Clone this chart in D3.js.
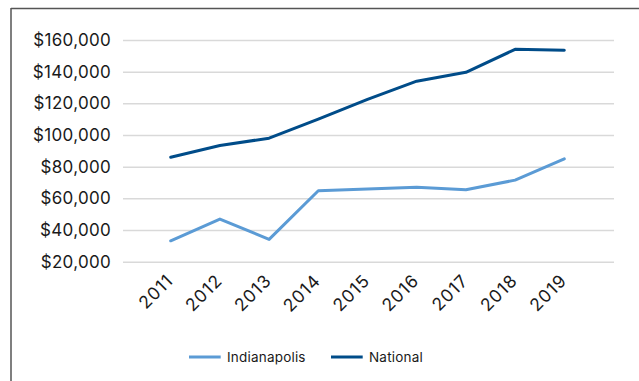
<!DOCTYPE html>
<html><head><meta charset="utf-8">
<script src="https://cdn.jsdelivr.net/npm/d3@7/dist/d3.min.js"></script>
<style>
html,body{margin:0;padding:0;background:#fff;}
svg{display:block;font-family:Inter, sans-serif;}
</style></head>
<body>
<svg id="c" width="639" height="381"></svg>
<script>
const years = ["2011","2012","2013","2014","2015","2016","2017","2018","2019"];
const indianapolis = [33200, 46900, 34100, 64800, 65900, 67000, 65400, 71500, 85000];
const national = [86000, 93400, 98000, 110000, 122500, 134000, 139600, 154100, 153500];
const yTicks = [20000, 40000, 60000, 80000, 100000, 120000, 140000, 160000];
const seriesNames = ["Indianapolis", "National"];
const seriesColors = ["#5B9BD5", "#004C89"];
const FONT = "Inter, sans-serif";

const svg = d3.select("#c");
svg.append("line").attr("x1",11).attr("x2",639).attr("y1",8.5).attr("y2",8.5).attr("stroke","#555").attr("stroke-width",1.5);
svg.append("line").attr("x1",11).attr("x2",11).attr("y1",8).attr("y2",381).attr("stroke","#555").attr("stroke-width",1.5);

const x = d3.scalePoint().domain(years).range([170.7, 564.3]);
const y = d3.scaleLinear().domain([20000, 160000]).range([261.7, 40]);
const gridL = 123, gridR = 614;

const yAxis = d3.axisLeft(y).tickValues(yTicks).tickSize(-(gridR-gridL)).tickPadding(12)
  .tickFormat(d => "$" + d3.format(",")(d));
const gy = svg.append("g").attr("transform",`translate(${gridL},0)`).call(yAxis);
gy.select(".domain").remove();
gy.selectAll(".tick line").attr("stroke","#d9d9d9").attr("stroke-width",1.5);
gy.selectAll(".tick text").attr("fill","#1a1a1a").attr("font-size",17).attr("font-weight",400).attr("letter-spacing",0.3).attr("font-family",FONT);

const xAxis = d3.axisBottom(x).tickSize(0).tickPadding(0);
const gx = svg.append("g").attr("transform",`translate(0,${y(20000)})`).call(xAxis);
gx.select(".domain").remove();
gx.selectAll(".tick text")
  .attr("fill","#1a1a1a").attr("font-size",17.5).attr("font-weight",400).attr("letter-spacing",1).attr("font-family",FONT)
  .attr("text-anchor","end").attr("dy",null).attr("y",0)
  .attr("transform","translate(3,20) rotate(-45)");

const line = d3.line().x((d,i)=>x(years[i])).y(d=>y(d));
[indianapolis, national].forEach((s,k)=>{
  svg.append("path").datum(s).attr("d",line).attr("fill","none")
    .attr("stroke",seriesColors[k]).attr("stroke-width",3).attr("stroke-linejoin","round").attr("stroke-linecap","round");
});

const lg = svg.append("g");
const legX = [189, 331];
seriesNames.forEach((n,k)=>{
  lg.append("line").attr("x1",legX[k]).attr("x2",legX[k]+31.7).attr("y1",357).attr("y2",357)
    .attr("stroke",seriesColors[k]).attr("stroke-width",3);
  lg.append("text").attr("x",legX[k]+38).attr("y",357).attr("dy","0.35em")
    .attr("font-size",13.5).attr("letter-spacing",0.2).attr("fill","#1a1a1a").attr("font-family",FONT).text(n);
});
</script>
</body></html>
